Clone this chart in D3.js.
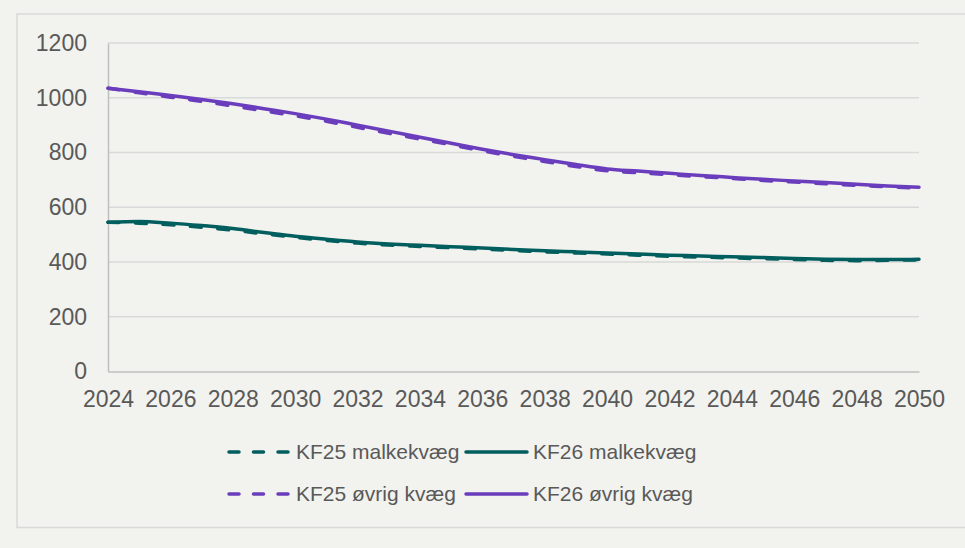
<!DOCTYPE html>
<html>
<head>
<meta charset="utf-8">
<script src="https://cdn.jsdelivr.net/npm/d3@7"></script>
<style>
  body { margin: 0; background: #f2f2ee; }
  #chart { width: 965px; height: 548px; }
  text { font-family: "Liberation Sans", Arial, sans-serif; fill: #595959; }
</style>
</head>
<body>
<div id="chart"></div>
<script>
// data
var years = d3.range(2024, 2051);
var yTicks = [0, 200, 400, 600, 800, 1000, 1200];
var xTicks = d3.range(2024, 2051, 2);

var kf25Malk = [545, 542, 536, 527, 516, 503, 490, 479, 469, 462, 457, 452, 447, 442, 437, 433, 429, 425, 421, 418, 415, 412, 409, 406, 405, 406, 408];
var kf26Malk = [545, 548, 542, 533, 522, 508, 494, 483, 473, 466, 461, 456, 451, 446, 441, 437, 433, 429, 425, 422, 419, 416, 413, 410, 409, 409, 410];
var kf25Ovrig = [1035, 1018, 1002, 987, 970, 952, 934, 914, 892, 870, 849, 828, 806, 786, 767, 749, 733, 726, 719, 712, 705, 698, 692, 686, 680, 675, 670];
var kf26Ovrig = [1035, 1022, 1008, 994, 978, 960, 942, 922, 900, 878, 856, 834, 812, 792, 774, 756, 740, 732, 724, 716, 709, 702, 696, 690, 684, 678, 673];

var seriesNames = ["KF25 malkekvæg", "KF26 malkekvæg", "KF25 øvrig kvæg", "KF26 øvrig kvæg"];
var seriesValues = [kf25Malk, kf26Malk, kf25Ovrig, kf26Ovrig];
var seriesColors = ["#005e5e", "#005e5e", "#6a3dbd", "#6a3dbd"];
var seriesDashed = [true, false, true, false];

var W = 965, H = 548;
var margin = {top: 43, left: 108, right: 46, bottom: 176.5};
var width = W - margin.left - margin.right,
    height = H - margin.top - margin.bottom;

var svg = d3.select("#chart").append("svg")
  .attr("width", W).attr("height", H);

// outer frame
svg.append("rect")
  .attr("x", 17).attr("y", 14)
  .attr("width", W).attr("height", 513.5)
  .attr("fill", "none")
  .attr("stroke", "#d9d9d9")
  .attr("stroke-width", 1.5);

var g = svg.append("g")
  .attr("transform", "translate(" + margin.left + "," + margin.top + ")");

var x = d3.scaleLinear().domain([2024, 2050]).range([0, width]);
var y = d3.scaleLinear().domain([0, 1200]).range([height, 0]);

// gridlines
g.selectAll(".grid").data(yTicks.slice(1)).enter()
  .append("line")
  .attr("x1", 0).attr("x2", width)
  .attr("y1", d => y(d)).attr("y2", d => y(d))
  .attr("stroke", "#d9d9d9")
  .attr("stroke-width", 1.5);

// axes
var yAxis = g.append("g")
  .call(d3.axisLeft(y).tickValues(yTicks).tickFormat(d3.format("d")).tickSize(0).tickPadding(21));
yAxis.select(".domain").attr("stroke", "#bfbfbf").attr("stroke-width", 1.5);
yAxis.selectAll("text").style("font-size", "23px").style("font-family", "Liberation Sans, Arial, sans-serif").attr("fill", "#595959");

var xAxis = g.append("g")
  .attr("transform", "translate(0," + height + ")")
  .call(d3.axisBottom(x).tickValues(xTicks).tickFormat(d3.format("d")).tickSize(0).tickPadding(19));
xAxis.select(".domain").attr("stroke", "#bfbfbf").attr("stroke-width", 1.5);
xAxis.selectAll("text").style("font-size", "23px").style("font-family", "Liberation Sans, Arial, sans-serif").attr("fill", "#595959");

// lines
var line = d3.line()
  .x((d, i) => x(years[i]))
  .y(d => y(d))
  .curve(d3.curveMonotoneX);

seriesValues.forEach(function(vals, i) {
  g.append("path")
    .datum(vals)
    .attr("d", line)
    .attr("fill", "none")
    .attr("stroke", seriesColors[i])
    .attr("stroke-width", 3.5)
    .attr("stroke-linecap", "round")
    .attr("stroke-dasharray", seriesDashed[i] ? "11,16.5" : null);
});

// legend
var legX = [229, 466], legY = [452, 494];
seriesNames.forEach(function(name, i) {
  var lx = legX[i % 2], ly = legY[Math.floor(i / 2)];
  svg.append("line")
    .attr("x1", lx).attr("x2", lx + 61)
    .attr("y1", ly).attr("y2", ly)
    .attr("stroke", seriesColors[i])
    .attr("stroke-width", 3.5)
    .attr("stroke-linecap", "round")
    .attr("stroke-dasharray", seriesDashed[i] ? "10,14.5" : null);
  svg.append("text")
    .attr("x", lx + 67).attr("y", ly)
    .attr("dy", "0.35em")
    .style("font-size", "21px")
    .text(name);
});
</script>
</body>
</html>
